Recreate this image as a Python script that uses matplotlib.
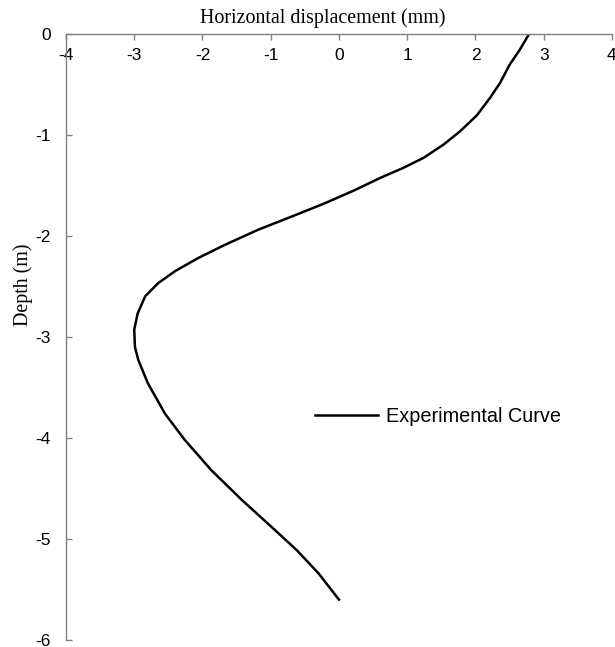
import matplotlib.pyplot as plt

# --- data ---
depth = [0.0, -0.16, -0.31, -0.49, -0.64, -0.81, -0.97, -1.10, -1.23, -1.33,
         -1.43, -1.55, -1.68, -1.81, -1.94, -2.09, -2.22, -2.35, -2.47, -2.60,
         -2.77, -2.93, -3.10, -3.23, -3.46, -3.76, -4.02, -4.32, -4.61, -4.88,
         -5.11, -5.34, -5.60]
displacement = [2.79, 2.65, 2.50, 2.36, 2.21, 2.02, 1.77, 1.53, 1.24, 0.94,
                0.60, 0.23, -0.21, -0.69, -1.18, -1.67, -2.06, -2.40, -2.65, -2.84,
                -2.95, -3.00, -2.99, -2.94, -2.80, -2.55, -2.26, -1.87, -1.43, -0.99,
                -0.62, -0.30, 0.00]
x_ticks = [-4, -3, -2, -1, 0, 1, 2, 3, 4]
y_ticks = [0, -1, -2, -3, -4, -5, -6]
series_label = "Experimental Curve"

sans = "Liberation Sans"
serif = "Liberation Serif"
grey = "#808080"

fig = plt.figure(figsize=(6.15, 6.47), dpi=100)
ax = fig.add_axes([0.1073, 0.0108, 0.8877, 0.9374])

ax.plot(displacement, depth, color="black", lw=1.8, label=series_label,
        solid_joinstyle="round")

# x axis drawn along depth = 0 (top), ticks pointing down into the plot
ax.spines["bottom"].set_position(("data", 0))
ax.spines["top"].set_visible(False)
ax.spines["right"].set_visible(False)
for s in ("bottom", "left"):
    ax.spines[s].set_color(grey)
    ax.spines[s].set_linewidth(1.0)

ax.set_xlim(-4, 4)
ax.set_ylim(-6, 0)
ax.set_xticks(x_ticks)
ax.set_yticks(y_ticks)
ax.set_xticklabels([str(v) for v in x_ticks])
ax.set_yticklabels([str(v) for v in y_ticks])
for lbl in ax.get_xticklabels() + ax.get_yticklabels():
    lbl.set_fontfamily(sans)
    lbl.set_fontsize(12.5)

ax.tick_params(axis="x", direction="out", length=4, width=1, color=grey, pad=6.5)
ax.tick_params(axis="y", direction="in", length=4, width=1, color=grey, pad=11)

ax.set_xlabel("Horizontal displacement (mm)", fontfamily=serif, fontsize=14.4)
ax.set_ylabel("Depth (m)", fontfamily=serif, fontsize=14.4)
ax.xaxis.set_label_coords(0.471, 1.026)
ax.yaxis.set_label_coords(-0.078, 0.585)
ax.xaxis.label.set_va("center")
ax.yaxis.label.set_va("center")

ax.legend(loc="center left", bbox_to_anchor=(0.456, 0.368), frameon=False,
          borderaxespad=0, borderpad=0, handlelength=3.2, handletextpad=0.4,
          prop={"family": sans, "size": 14.3})

fig.savefig("out.png", dpi=100)
